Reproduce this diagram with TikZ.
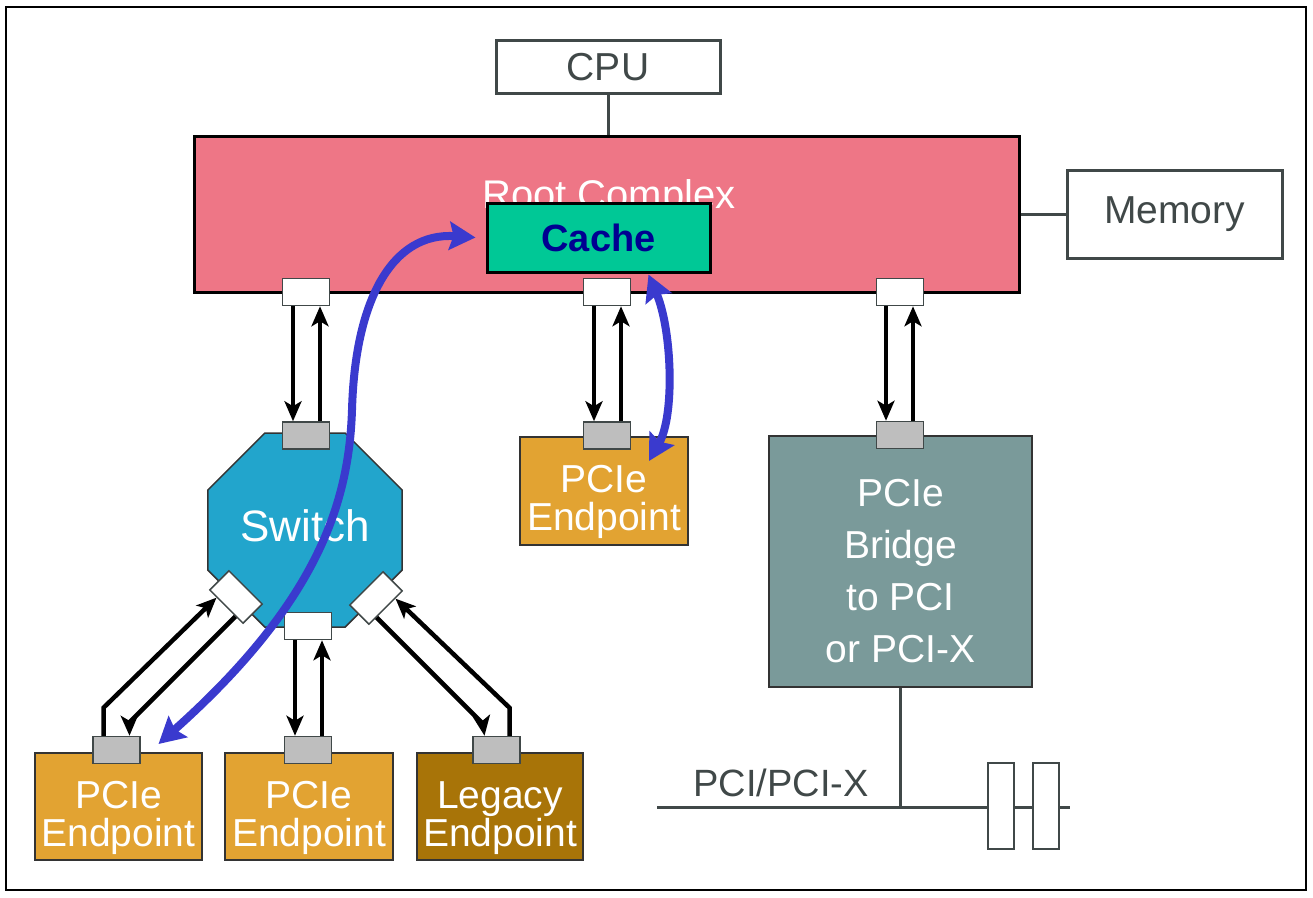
\documentclass[tikz,border=0pt]{standalone}
\usepackage{fontspec}
\setmainfont{Liberation Sans}
\usetikzlibrary{arrows.meta, shapes.geometric, calc}

\definecolor{rcpink}{RGB}{238,118,134}
\definecolor{cachegreen}{RGB}{0,200,150}
\definecolor{cachetext}{RGB}{0,0,145}
\definecolor{swblue}{RGB}{34,165,204}
\definecolor{epgold}{RGB}{226,163,50}
\definecolor{legacybrown}{RGB}{168,116,8}
\definecolor{bridgegray}{RGB}{122,154,154}
\definecolor{portgray}{RGB}{190,190,190}
\definecolor{flowblue}{RGB}{58,58,206}
\definecolor{edgegray}{RGB}{64,72,72}

\begin{document}
\begin{tikzpicture}[x=1pt, y=-1pt,
    box/.style={draw=edgegray, line width=3pt, fill=white, text=edgegray, inner sep=0pt, font=\fontsize{39}{40}\selectfont},
    unit/.style={draw=black!80, line width=2pt, text=white, align=center, inner sep=0pt, text height=79pt, text depth=0pt, font=\fontsize{39}{38}\selectfont},
    port/.style={draw=edgegray, line width=1.5pt, fill=white, minimum width=47pt, minimum height=27pt, inner sep=0pt},
    gport/.style={port, fill=portgray},
    slot/.style={draw=edgegray, line width=2pt, fill=white, minimum width=26pt, minimum height=86pt, inner sep=0pt},
    link/.style={line width=4.5pt, -{Stealth[length=20pt, width=17pt, inset=5pt]}},
    flow/.style={draw=flowblue, line width=8pt, {Stealth[length=26pt, width=28pt, inset=4pt]}-{Stealth[length=26pt, width=28pt, inset=4pt]}}]
    \useasboundingbox (0,0) rectangle (1313,897);
    \draw[line width=1.5pt] (6,7) rectangle (1306,890);

    % host side
    \node[box, minimum width=224pt, minimum height=53pt] (cpu) at (608,67) {CPU};
    \node[draw=black, line width=3pt, fill=rcpink, minimum width=825pt, minimum height=156pt, inner sep=0pt] (root) at (606.5,214) {};
    \node[text=white, inner sep=0pt, anchor=base, font=\fontsize{40}{40}\selectfont] (rclabel) at (609,208) {Root Complex};
    \node[draw=black, line width=3pt, fill=cachegreen, minimum width=223pt, minimum height=69pt, inner sep=0pt, text=cachetext, font=\bfseries\fontsize{38}{38}\selectfont] (cache) at (598.5,237.5) {Cache};
    \node[box, minimum width=215pt, minimum height=88pt] (mem) at (1174.5,214) {Memory};
    \draw[edgegray, line width=3pt] (cpu.south) -- (cpu.south |- root.north);
    \draw[edgegray, line width=3pt] (root.east) -- (mem.west);

    \node[port] (rp1) at (306,292) {};
    \node[port] (rp2) at (607,292) {};
    \node[port] (rp3) at (900,292) {};

    % switch and endpoints
    \node[regular polygon, regular polygon sides=8, minimum size=210pt, fill=swblue, draw=black!80, line width=1.5pt, inner sep=0pt, text=white, text height=22pt, text depth=0pt, font=\fontsize{44}{44}\selectfont] (sw) at (305,530) {Switch};
    \node[gport] (sp0) at (306,435.5) {};
    \node[port, rotate=-45] (sp1) at (236,597) {};
    \node[port, rotate=45] (sp2) at (376,598) {};
    \node[port] (sp3) at (308,626) {};

    \node[unit, fill=epgold, minimum width=168pt, minimum height=108pt] (ep0) at (604,491) {PCIe\\Endpoint};
    \node[gport] (mp) at (607,435.5) {};
    \node[unit, fill=epgold, minimum width=167pt, minimum height=107pt] (ep1) at (118.5,806.5) {PCIe\\Endpoint};
    \node[unit, fill=epgold, minimum width=168pt, minimum height=107pt] (ep2) at (309,806.5) {PCIe\\Endpoint};
    \node[unit, fill=legacybrown, minimum width=166pt, minimum height=107pt] (leg) at (500,806.5) {Legacy\\Endpoint};
    \node[gport] (ep1p) at (116.5,750) {};
    \node[gport] (ep2p) at (308,750) {};
    \node[gport] (lgp) at (496.5,750) {};

    % bridge and PCI bus
    \node[unit, fill=bridgegray, minimum width=263pt, minimum height=251pt, text height=201pt, font=\fontsize{39}{52}\selectfont] (bridge) at (900.5,561.5) {PCIe\\Bridge\\to PCI\\or PCI-X};
    \node[gport] (bp) at (900,435) {};
    \coordinate (busL) at (657,807);
    \coordinate (busR) at (1070,807);
    \draw[edgegray, line width=3pt] (busL) -- (busR);
    \draw[edgegray, line width=3pt] (bridge.south) -- (bridge.south |- busL);
    \node[slot] (slot1) at (1001,806) {};
    \node[slot] (slot2) at (1046,806) {};
    \node[text=edgegray, inner sep=0pt, anchor=base, font=\fontsize{38}{38}\selectfont] (buslabel) at (781,796) {PCI/PCI-X};

    % links
    \draw[link] ([xshift=-13pt]rp1.south) -- ([xshift=-13pt]sp0.north);
    \draw[link] ([xshift=14pt]sp0.north) -- ([xshift=14pt]rp1.south);
    \draw[link] ([xshift=-13pt]rp2.south) -- ([xshift=-13pt]mp.north);
    \draw[link] ([xshift=14pt]mp.north) -- ([xshift=14pt]rp2.south);
    \draw[link] ([xshift=-14pt]rp3.south) -- ([xshift=-14pt]bp.north);
    \draw[link] ([xshift=13pt]bp.north) -- ([xshift=13pt]rp3.south);
    \draw[link] ([xshift=-13pt]sp3.south) -- ([xshift=-13pt]ep2p.north);
    \draw[link] ([xshift=14pt]ep2p.north) -- ([xshift=14pt]sp3.south);
    \draw[link] ([xshift=-13pt]ep1p.north) -- ++(0,-28) -- ($(sp1.south)!0.55!(sp1.south west)$);
    \draw[link] ($(sp1.south)!0.55!(sp1.south east)$) -- ++(-106,106) -- ([xshift=13pt]ep1p.north);
    \draw[link] ($(sp2.south)!0.55!(sp2.south west)$) -- ++(106,106) -- ([xshift=-12pt]lgp.north);
    \draw[link] ([xshift=13pt]lgp.north) -- ++(0,-28) -- ($(sp2.south)!0.55!(sp2.south east)$);

    % cache traffic
    \draw[flow] ([xshift=40pt,yshift=8pt]ep1.north) .. controls (320,600) and (349,500) .. (352,410) .. controls (355,300) and (392,232) .. ([xshift=-10pt]cache.west);
    \draw[flow] ([xshift=50pt,yshift=-1pt]cache.south) .. controls (672,330) and (675,415) .. ([xshift=-40pt,yshift=-25pt]ep0.north east);
\end{tikzpicture}
\end{document}
